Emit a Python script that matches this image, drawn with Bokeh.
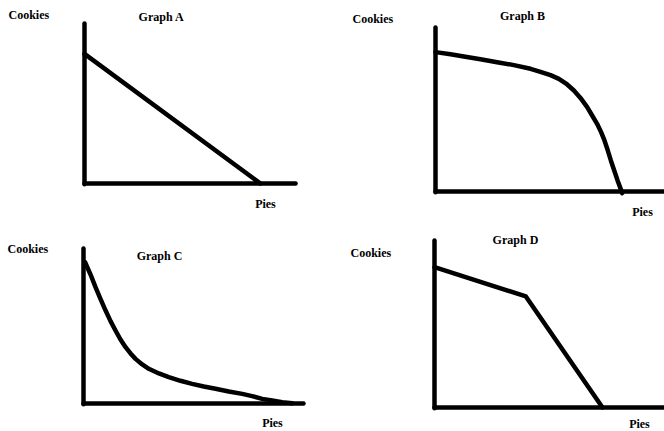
from bokeh.plotting import figure
from bokeh.layouts import column, row
from bokeh.models import Range1d
from bokeh.core.properties import value
from bokeh.embed import file_html
from bokeh.resources import INLINE

# Production possibility frontiers: pies (x) versus cookies (y)
a_pies = [0.0, 11.0]
a_cookies = [8.1, 0.0]

b_pies = [0.0, 0.94, 1.77, 2.81, 3.85, 4.90, 5.94, 6.56, 7.19, 7.71, 8.23, 8.65,
          9.06, 9.48, 9.79, 10.10, 10.35, 10.56, 10.77, 10.96, 11.17, 11.38, 11.67]
b_cookies = [8.71, 8.58, 8.44, 8.27, 8.08, 7.90, 7.67, 7.48, 7.27, 7.04, 6.69, 6.31,
             5.85, 5.27, 4.75, 4.23, 3.71, 3.19, 2.56, 1.94, 1.31, 0.69, -0.1]

c_pies = [0.10, 0.44, 0.75, 1.06, 1.38, 1.69, 2.0, 2.31, 2.63, 2.94, 3.25, 3.67, 4.08,
          4.71, 5.33, 6.06, 6.79, 7.52, 8.25, 9.08, 9.92, 10.54, 11.17, 11.79, 12.42, 13.04]
c_cookies = [8.83, 8.06, 7.27, 6.54, 5.81, 5.15, 4.56, 4.0, 3.52, 3.13, 2.79, 2.44, 2.17,
             1.88, 1.65, 1.42, 1.23, 1.06, 0.92, 0.75, 0.60, 0.46, 0.29, 0.19, 0.08, 0.02]

d_pies = [0.0, 5.71, 10.5]
d_cookies = [8.77, 6.94, 0.0]

titles = ["Graph A", "Graph B", "Graph C", "Graph D"]
y_label = "Cookies"
x_label = "Pies"

PX = 16.0  # pixels per unit
FONT = value("Liberation Serif")
STROKE = 4.5


def panel(w, h, ox, oy, x_end, y_end, pies, cookies, title,
          ylab_xy, title_xy, xlab_xy):
    p = figure(width=w, height=h, output_backend="svg", toolbar_location=None,
               x_range=Range1d(-ox / PX, (w - ox) / PX),
               y_range=Range1d(-(h - oy) / PX, oy / PX),
               x_axis_location=None, y_axis_location=None,
               min_border=0, outline_line_color=None,
               background_fill_color="white", border_fill_color="white")
    p.grid.visible = False

    # hand-drawn style axes
    p.line([0, 0], [-0.05, y_end], line_width=STROKE, line_color="black", line_cap="round")
    p.line([0, x_end], [0, 0], line_width=STROKE, line_color="black", line_cap="round")

    # frontier
    p.line(pies, cookies, line_width=STROKE, line_color="black",
           line_cap="round", line_join="round")

    p.text(x=[ylab_xy[0]], y=[ylab_xy[1]], text=[y_label], text_font=FONT,
           text_font_style="bold", text_font_size="12px",
           text_align="left", text_baseline="middle", text_color="black")
    p.text(x=[title_xy[0]], y=[title_xy[1]], text=[title], text_font=FONT,
           text_font_style="bold", text_font_size="12px",
           text_align="center", text_baseline="middle", text_color="black")
    p.text(x=[xlab_xy[0]], y=[xlab_xy[1]], text=[x_label], text_font=FONT,
           text_font_style="bold", text_font_size="12px",
           text_align="center", text_baseline="middle", text_color="black")
    return p


pa = panel(332, 225, 84, 183, 13.19, 10.0, a_pies, a_cookies, titles[0],
           (-4.75, 10.56), (4.81, 10.38), (11.31, -1.31))
pb = panel(332, 225, 103, 191, 14.5, 10.25, b_pies, b_cookies, titles[1],
           (-5.19, 10.81), (5.44, 11.0), (12.94, -1.31))
pc = panel(332, 206, 83, 178, 13.75, 9.69, c_pies, c_cookies, titles[2],
           (-4.75, 9.63), (4.75, 9.19), (11.81, -1.19))
pd = panel(332, 206, 102, 182, 14.5, 10.44, d_pies, d_cookies, titles[3],
           (-5.25, 9.63), (5.06, 10.44), (12.81, -1.0))

layout = column(row(pa, pb, spacing=0), row(pc, pd, spacing=0), spacing=0)

with open("out.html", "w") as f:
    f.write(file_html(layout, INLINE))
